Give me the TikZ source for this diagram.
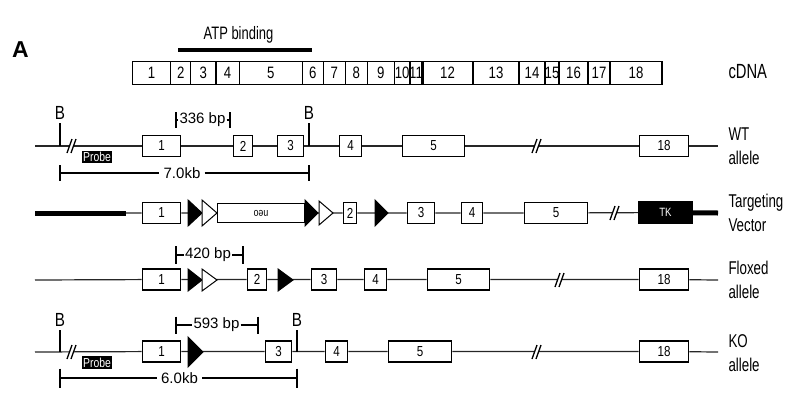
\documentclass[tikz,border=0pt]{standalone}
\usepackage{fontspec}
\setmainfont{Liberation Sans}[FakeStretch=0.8]
\newfontfamily\widesf{Liberation Sans}
\newfontfamily\labelsf{Liberation Sans}[FakeStretch=0.72]
\usepackage{tikz}
\usetikzlibrary{positioning}
% break mark on a backbone
\newcommand{\gapmark}[2]{%
  \fill[white,shift={(#1,#2)}] (-5,7) -- (0,-7) -- (4,-7) -- (-1,7) -- cycle;
  \draw[line width=1.3pt,shift={(#1,#2)}] (-5,7) -- (0,-7) (-1,7) -- (4,-7);}
% loxP site: from x, to x, y, half height, fill
\newcommand{\loxp}[5]{\draw[fill=#5,line width=1pt,line join=miter] (#1,#3-#4) -- (#2,#3) -- (#1,#3+#4) -- cycle;}

\begin{document}
\begin{tikzpicture}[x=1pt,y=-1pt,
  exon/.style={draw,fill=white,line width=1.7pt,inner sep=0pt,minimum height=21pt,font=\fontsize{14.5}{16}\selectfont},
  cbox/.style={draw,line width=1.3pt,inner sep=0pt,minimum height=23pt,font=\fontsize{16.5}{18}\selectfont},
  backbone/.style={line width=1.2pt,black!85},
  thickline/.style={line width=5pt},
  dimline/.style={line width=1.2pt},
  bptext/.style={inner sep=1pt,font=\widesf\fontsize{15}{17}\selectfont},
  blabel/.style={font=\fontsize{19}{21}\selectfont},
  rowlabel/.style={anchor=west,align=left,font=\labelsf\fontsize{18.5}{24}\selectfont},
  probe/.style={fill=black,text=white,inner sep=0pt,minimum width=30pt,font=\fontsize{13}{14}\selectfont}]

  \useasboundingbox (0,0) rectangle (800,402);

  \node[font=\widesf\bfseries\fontsize{23}{25}\selectfont] (pa) at (20.5,50) {A};

  % cDNA
  \foreach \a/\b/\n [evaluate=\a as \c using (\a+\b)/2, evaluate=\a as \w using \b-\a] in
    {132.3/170.7/1,170.7/190.7/2,190.7/216/3,216/239.3/4,239.3/302.3/5,302.3/323.3/6,
     323.3/345.3/7,345.3/367.3/8,367.3/394.3/9,394.3/410/10,410/422/11,422/473/12,
     473/519/13,519/545/14,545/559/15,559/588/16,588/610/17,610/662/18}
    \node[cbox,minimum width=\w pt] (c\n) at (\c,73) {\n};
  \node[rowlabel,font=\labelsf\fontsize{20.5}{22}\selectfont] (cdna) at (725,72) {cDNA};
  \node[font=\labelsf\fontsize{18}{20}\selectfont] (atp) at (238.5,35) {ATP binding};
  \draw[line width=4pt] (178,50) -- (312,50);

  % WT allele
  \node[exon,minimum width=38pt] (w1) at (161.5,146) {1};
  \node[exon,minimum width=19pt] (w2) at (243,146) {2};
  \node[exon,minimum width=26pt] (w3) at (290.5,146) {3};
  \node[exon,minimum width=22pt] (w4) at (350.5,146) {4};
  \node[exon,minimum width=62pt] (w5) at (433.5,146) {5};
  \node[exon,minimum width=49pt] (w18) at (664,146) {18};
  \coordinate (ws) at (35,146);
  \coordinate (we) at (718,146);
  \draw[backbone] (ws) -- (w1) -- (w2) -- (w3) -- (w4) -- (w5) -- (w18) -- (we);
  \gapmark{72}{146}
  \gapmark{537}{146}
  \node[probe,minimum height=12pt] (wp) at (97,156.5) {Probe};
  \node[blabel] (b1) at (60,113) {B};
  \node[blabel] (b2) at (309,113) {B};
  \coordinate (wb1) at (60,146);
  \coordinate (wb2) at (309,146);
  \draw[line width=1.3pt] (b1) -- (wb1);
  \draw[line width=1.3pt] (b2) -- (wb2);
  \coordinate (d1l) at (176,120);
  \coordinate (d1r) at (230,120);
  \node[bptext] (d1) at (202.5,120) {336 bp};
  \draw[dimline] (d1l) -- (d1) (d1) -- (d1r);
  \draw[dimline] ([yshift=8pt]d1l) -- ([yshift=-8pt]d1l);
  \draw[dimline] ([yshift=8pt]d1r) -- ([yshift=-8pt]d1r);
  \coordinate (d2l) at (60,173);
  \coordinate (d2r) at (309,173);
  \node[bptext,inner sep=4pt] (d2) at (182,173) {7.0kb};
  \draw[line width=1.4pt] (d2l) -- (d2) (d2) -- (d2r);
  \draw[line width=1.4pt] ([yshift=8pt]d2l) -- ([yshift=-8pt]d2l);
  \draw[line width=1.4pt] ([yshift=8pt]d2r) -- ([yshift=-8pt]d2r);
  \node[rowlabel] (lwt) at (725,146) {WT\\allele};

  % targeting vector
  \node[exon,minimum width=38pt] (t1) at (161.5,213) {1};
  \node[exon,minimum width=87pt,minimum height=19pt] (neo) at (261,213) {\rotatebox{180}{\fontsize{11}{12}\selectfont neo}};
  \node[exon,minimum width=13pt] (t2) at (350,213) {2};
  \node[exon,minimum width=27pt] (t3) at (421,213) {3};
  \node[exon,minimum width=21pt] (t4) at (472,213) {4};
  \node[exon,minimum width=63pt] (t5) at (556,213) {5};
  \node[exon,fill=black,text=white,minimum width=53pt,font=\fontsize{12}{13}\selectfont] (tk) at (665.5,212.5) {TK};
  \coordinate (tvs) at (35,213);
  \coordinate (tva) at (126,213);
  \coordinate (tve) at (718,213);
  \draw[thickline] (tvs) -- (tva);
  \draw[backbone] (tva) -- (t1) -- (neo) -- (t2) -- (t3) -- (t4) -- (t5) -- (tk);
  \draw[thickline] (tk) -- (tve);
  \loxp{188}{202}{213}{13}{black}
  \loxp{202}{217}{213}{13}{white}
  \loxp{305}{318}{213}{13}{black}
  \loxp{319}{333}{213}{12}{white}
  \loxp{375}{388}{213}{13}{black}
  \gapmark{615}{213}
  \node[rowlabel] (ltv) at (725,213) {Targeting\\Vector};

  % floxed allele
  \node[exon,minimum width=38pt] (f1) at (161.5,279.5) {1};
  \node[exon,minimum width=19pt] (f2) at (257,279.5) {2};
  \node[exon,minimum width=25pt] (f3) at (324,279.5) {3};
  \node[exon,minimum width=22pt] (f4) at (375.5,279.5) {4};
  \node[exon,minimum width=62pt] (f5) at (458.5,279.5) {5};
  \node[exon,minimum width=49pt] (f18) at (664,279.5) {18};
  \coordinate (fs) at (35,280);
  \coordinate (fe) at (718,280);
  \draw[backbone] (fs) -- (f1) -- (f2) -- (f3) -- (f4) -- (f5) -- (f18) -- (fe);
  \loxp{188}{202}{280}{11}{black}
  \loxp{202}{217}{280}{11}{white}
  \loxp{278}{293}{280}{11}{black}
  \gapmark{560}{280}
  \coordinate (d3l) at (176,255);
  \coordinate (d3r) at (243,255);
  \node[bptext] (d3) at (208,255) {420 bp};
  \draw[dimline] (d3l) -- (d3) (d3) -- (d3r);
  \draw[dimline] ([yshift=9pt]d3l) -- ([yshift=-9pt]d3l);
  \draw[dimline] ([yshift=9pt]d3r) -- ([yshift=-9pt]d3r);
  \node[rowlabel] (lfl) at (725,280) {Floxed\\allele};

  % KO allele
  \node[exon,minimum width=38pt] (k1) at (161.5,351.5) {1};
  \node[exon,minimum width=26pt] (k3) at (278.5,351.5) {3};
  \node[exon,minimum width=22pt] (k4) at (336.5,351.5) {4};
  \node[exon,minimum width=63pt] (k5) at (420,351.5) {5};
  \node[exon,minimum width=49pt] (k18) at (664,351.5) {18};
  \coordinate (ks) at (35,352);
  \coordinate (ke) at (718,352);
  \draw[backbone] (ks) -- (k1) -- (k3) -- (k4) -- (k5) -- (k18) -- (ke);
  \loxp{188}{203}{352}{15}{black}
  \gapmark{72}{352}
  \gapmark{537}{352}
  \node[probe,minimum height=13pt] (kp) at (97,362.5) {Probe};
  \node[blabel] (b3) at (60,320) {B};
  \node[blabel] (b4) at (297,320) {B};
  \coordinate (kb1) at (60,352);
  \coordinate (kb2) at (297,352);
  \draw[line width=1.3pt] (b3) -- (kb1);
  \draw[line width=1.3pt] (b4) -- (kb2);
  \coordinate (d4l) at (176,325);
  \coordinate (d4r) at (258,325);
  \node[bptext] (d4) at (216.5,325) {593 bp};
  \draw[dimline] (d4l) -- (d4) (d4) -- (d4r);
  \draw[dimline] ([yshift=8.5pt]d4l) -- ([yshift=-8.5pt]d4l);
  \draw[dimline] ([yshift=8.5pt]d4r) -- ([yshift=-8.5pt]d4r);
  \coordinate (d5l) at (60,378);
  \coordinate (d5r) at (297,378);
  \node[bptext,inner sep=4pt] (d5) at (179.5,378) {6.0kb};
  \draw[line width=1.4pt] (d5l) -- (d5) (d5) -- (d5r);
  \draw[line width=1.4pt] ([yshift=9.5pt]d5l) -- ([yshift=-9.5pt]d5l);
  \draw[line width=1.4pt] ([yshift=9.5pt]d5r) -- ([yshift=-9.5pt]d5r);
  \node[rowlabel] (lko) at (725,353) {KO\\allele};
\end{tikzpicture}
\end{document}
